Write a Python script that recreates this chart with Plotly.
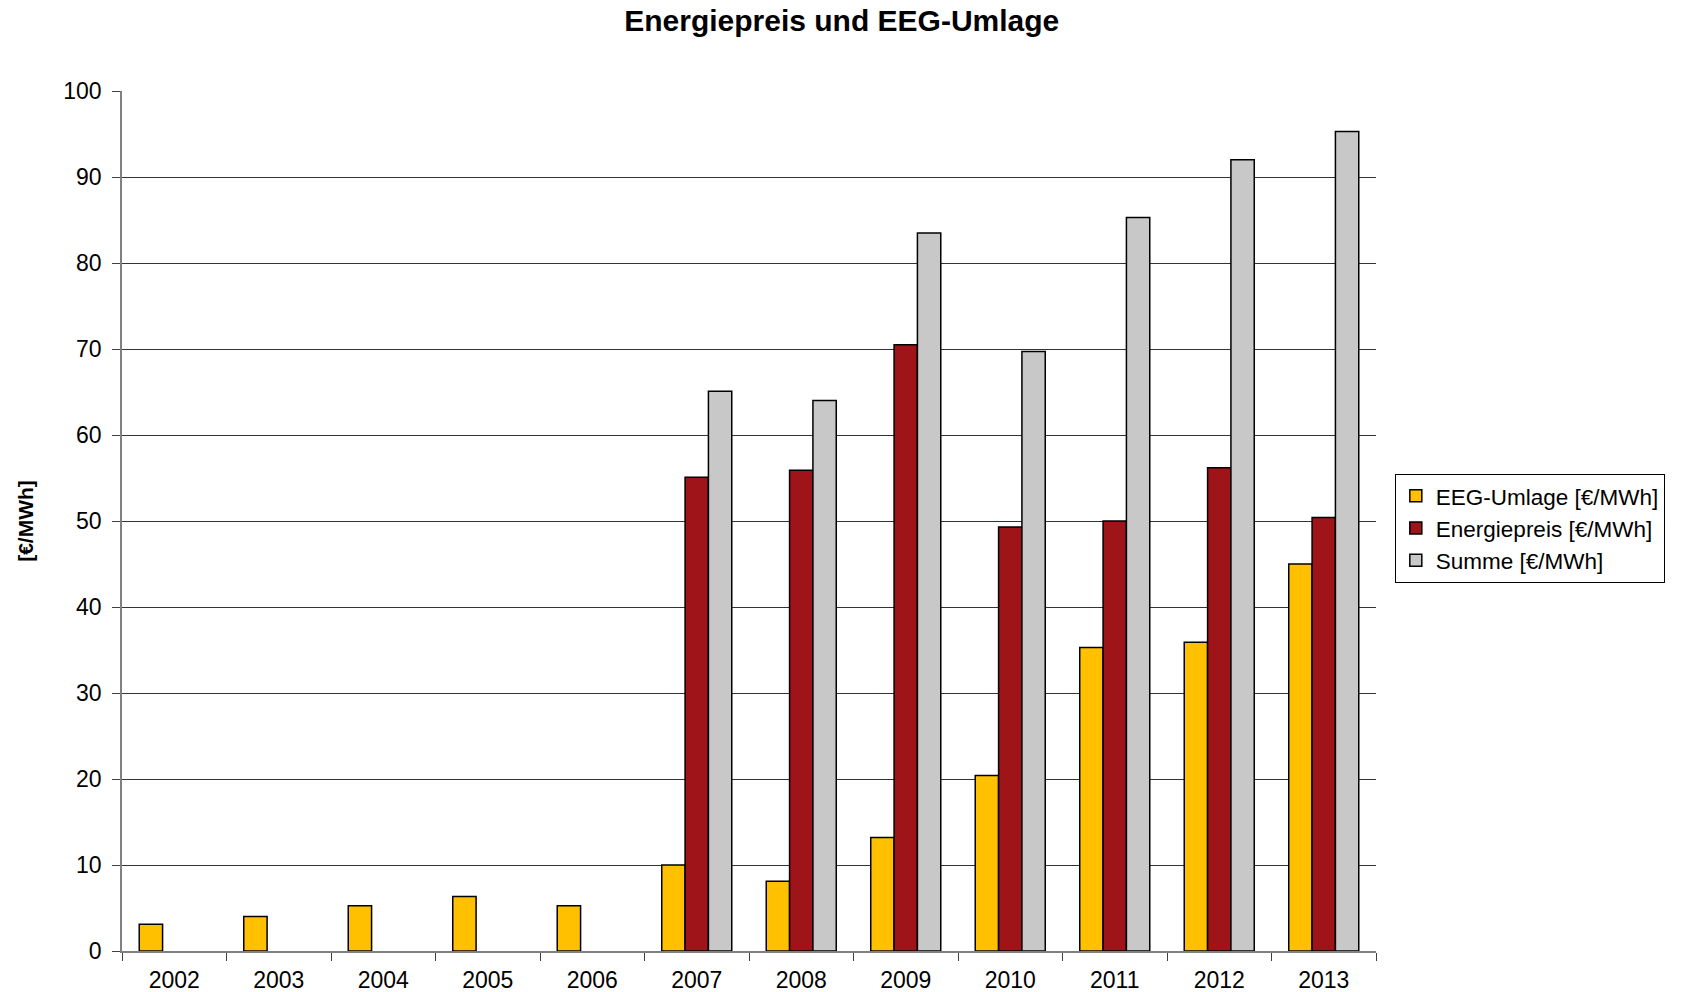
import plotly.graph_objects as go

years = ["2002", "2003", "2004", "2005", "2006", "2007", "2008", "2009", "2010", "2011", "2012", "2013"]
eeg_umlage = [3.1, 4.0, 5.25, 6.35, 5.25, 10.0, 8.1, 13.2, 20.4, 35.3, 35.9, 45.0]
energiepreis = [None, None, None, None, None, 55.1, 55.9, 70.5, 49.3, 50.0, 56.2, 50.4]
summe = [None, None, None, None, None, 65.1, 64.0, 83.5, 69.7, 85.3, 92.0, 95.3]
y_ticks = [0, 10, 20, 30, 40, 50, 60, 70, 80, 90, 100]

FONT = "Liberation Sans, Arial, sans-serif"
outline = dict(color="black", width=1.5)

fig = go.Figure()
fig.add_trace(go.Bar(x=years, y=eeg_umlage, name="EEG-Umlage [€/MWh]",
                     marker=dict(color="#FFC000", line=outline)))
fig.add_trace(go.Bar(x=years, y=energiepreis, name="Energiepreis [€/MWh]",
                     marker=dict(color="#9E1418", line=outline)))
fig.add_trace(go.Bar(x=years, y=summe, name="Summe [€/MWh]",
                     marker=dict(color="#C8C8C8", line=outline)))

fig.update_layout(
    width=1692, height=992,
    margin=dict(l=122, r=316, t=91, b=41),
    paper_bgcolor="white", plot_bgcolor="white",
    font=dict(family=FONT, color="black", size=23),
    barmode="group", bargap=0.33, bargroupgap=0,
    title=dict(text="<b>Energiepreis und EEG-Umlage</b>", xref="container", x=0.4975, xanchor="center",
               yref="container", y=0.979, yanchor="middle",
               font=dict(family=FONT, size=30, color="black")),
    legend=dict(x=1.015, xanchor="left", y=0.555, yanchor="top",
                bordercolor="black", borderwidth=1, bgcolor="white",
                font=dict(family=FONT, size=22.5, color="black"),
                tracegroupgap=0, itemwidth=30),
    showlegend=True,
)
fig.update_xaxes(
    type="category", showgrid=False, showline=True, linecolor="#808080", linewidth=1.5,
    ticks="outside", tickson="boundaries", ticklen=8, tickcolor="#404040", tickwidth=1,
    tickfont=dict(family=FONT, size=23, color="black"), ticklabelstandoff=8,
    automargin=False,
)
fig.update_yaxes(
    range=[0, 100], tickvals=y_ticks, showgrid=True, gridcolor="#333333", gridwidth=1,
    showline=True, linecolor="#808080", linewidth=1.5, zeroline=False,
    ticks="outside", ticklen=8, tickcolor="#404040", tickwidth=1,
    tickfont=dict(family=FONT, size=23, color="black"), ticklabelstandoff=6,
    title=dict(text="<b>[€/MWh]</b>", font=dict(family=FONT, size=21, color="black"), standoff=24),
    automargin=False,
)

fig.write_html("out.html")
